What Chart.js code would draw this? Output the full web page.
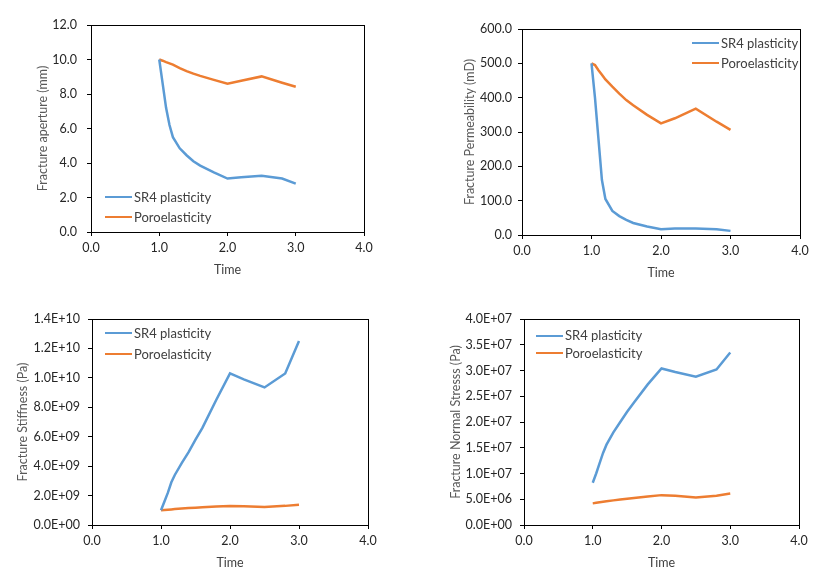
<!DOCTYPE html>
<html>
<head>
<meta charset="utf-8">
<script src="https://cdn.jsdelivr.net/npm/chart.js@4.4.1/dist/chart.umd.min.js"></script>
<style>
  body { margin: 0; background: #fff; width: 831px; height: 580px; position: relative; overflow: hidden; font-family: Lato, sans-serif; }
  canvas { position: absolute; }
  .legend { position: absolute; font-size: 13px; color: #404040; }
  .legend div { position: relative; padding-left: 29px; white-space: nowrap; }
  .legend span { position: absolute; left: 0; width: 27px; height: 0; border-top: 2.5px solid; }
</style>
</head>
<body>
<canvas id="aperture" width="415" height="290" style="left:0;top:0"></canvas>
<canvas id="permeability" width="415" height="290" style="left:415px;top:0"></canvas>
<canvas id="stiffness" width="415" height="290" style="left:0;top:290px"></canvas>
<canvas id="stress" width="415" height="290" style="left:415px;top:290px"></canvas>
<script>
const BLUE = "#5B9BD5";
const ORANGE = "#ED7D31";
const SERIES_NAMES = ["SR4 plasticity", "Poroelasticity"];

const TIME = [1.0, 1.05, 1.1, 1.15, 1.2, 1.3, 1.4, 1.5, 1.6, 1.8, 2.0, 2.2, 2.5, 2.8, 3.0];

const APERTURE_SR4 = [10.0, 8.6, 7.2, 6.2, 5.5, 4.85, 4.45, 4.1, 3.85, 3.45, 3.1, 3.18, 3.26, 3.1, 2.8];
const APERTURE_PORO = [10.0, 9.93, 9.85, 9.78, 9.7, 9.5, 9.33, 9.18, 9.05, 8.82, 8.6, 8.77, 9.02, 8.65, 8.42];

const PERM_SR4 = [500, 400, 280, 160, 105, 70, 55, 44, 35, 25, 17, 19, 19, 17, 12];
const PERM_PORO = [500, 495, 480, 467, 453, 432, 412, 393, 378, 350, 325, 340, 368, 330, 306];

const STIFF_SR4 = [1.0e9, 1.6e9, 2.2e9, 2.9e9, 3.4e9, 4.2e9, 4.95e9, 5.8e9, 6.6e9, 8.5e9, 10.3e9, 9.9e9, 9.35e9, 10.3e9, 12.5e9];
const STIFF_PORO = [1.0e9, 1.02e9, 1.04e9, 1.06e9, 1.08e9, 1.12e9, 1.15e9, 1.18e9, 1.2e9, 1.26e9, 1.29e9, 1.28e9, 1.22e9, 1.3e9, 1.38e9];

const STRESS_SR4 = [8.2e6, 10.0e6, 12.0e6, 14.0e6, 15.6e6, 18.0e6, 20.0e6, 22.0e6, 23.8e6, 27.3e6, 30.4e6, 29.7e6, 28.8e6, 30.2e6, 33.5e6];
const STRESS_PORO = [4.2e6, 4.3e6, 4.4e6, 4.5e6, 4.6e6, 4.78e6, 4.95e6, 5.1e6, 5.25e6, 5.55e6, 5.8e6, 5.7e6, 5.35e6, 5.7e6, 6.1e6];

const X_TICKS = ["0.0", "1.0", "2.0", "3.0", "4.0"];
const APERTURE_TICKS = ["0.0", "2.0", "4.0", "6.0", "8.0", "10.0", "12.0"];
const PERM_TICKS = ["0.0", "100.0", "200.0", "300.0", "400.0", "500.0", "600.0"];
const STIFF_TICKS = ["0.0E+00", "2.0E+09", "4.0E+09", "6.0E+09", "8.0E+09", "1.0E+10", "1.2E+10", "1.4E+10"];
const STRESS_TICKS = ["0.0E+00", "5.0E+06", "1.0E+07", "1.5E+07", "2.0E+07", "2.5E+07", "3.0E+07", "3.5E+07", "4.0E+07"];

const frame = {
  id: "frame",
  afterDraw(chart) {
    const { ctx, chartArea: a } = chart;
    ctx.save();
    ctx.strokeStyle = "#000";
    ctx.lineWidth = 1;
    ctx.strokeRect(Math.round(a.left) + 0.5, Math.round(a.top) + 0.5,
      Math.round(a.right - a.left), Math.round(a.bottom - a.top));
    ctx.restore();
  },
};

function toPoints(values) {
  return TIME.map((t, i) => ({ x: t, y: values[i] }));
}

function makeChart(id, cfg) {
  const tickFont = { family: "Lato", size: 12.5 };
  const titleFont = { family: "Lato", size: 12.5 };
  return new Chart(document.getElementById(id), {
    type: "line",
    data: {
      datasets: [
        { label: SERIES_NAMES[0], data: toPoints(cfg.sr4), borderColor: BLUE, borderWidth: 2.5, pointRadius: 0, tension: 0 },
        { label: SERIES_NAMES[1], data: toPoints(cfg.poro), borderColor: ORANGE, borderWidth: 2.5, pointRadius: 0, tension: 0 },
      ],
    },
    options: {
      responsive: false,
      animation: false,
      events: [],
      layout: { padding: { left: 0, top: cfg.top, right: cfg.right, bottom: 0 } },
      plugins: { legend: { display: false }, tooltip: { enabled: false } },
      scales: {
        x: {
          type: "linear",
          min: 0,
          max: 4,
          ticks: { stepSize: 1, autoSkip: false, maxRotation: 0, padding: 4, color: "#262626", font: tickFont, callback: (v, i) => X_TICKS[i] },
          grid: { drawOnChartArea: false, drawTicks: true, tickLength: 4, color: "#000" },
          border: { display: true, color: "#000" },
          title: { display: true, text: "Time", color: "#404040", font: titleFont, padding: { top: 0, bottom: cfg.xTitlePad } },
          afterFit: (s) => { s.height = cfg.xh; s.paddingLeft = 0; s.paddingRight = 0; },
        },
        y: {
          min: 0,
          max: cfg.max,
          ticks: { stepSize: cfg.step, autoSkip: false, padding: cfg.tickPad, color: "#262626", font: tickFont, callback: (v, i) => cfg.ticks[i] },
          grid: { drawOnChartArea: false, drawTicks: true, tickLength: 4, color: "#000" },
          border: { display: true, color: "#000" },
          title: { display: true, text: cfg.title, color: "#595959", font: titleFont, padding: { top: cfg.yTitlePad, bottom: 0 } },
          afterFit: (s) => { s.width = cfg.yw; s.paddingTop = 0; s.paddingBottom = 0; },
        },
      },
    },
    plugins: [frame],
  });
}

function makeLegend(left, top, gap) {
  const box = document.createElement("div");
  box.className = "legend";
  box.style.left = left + "px";
  box.style.top = top + "px";
  [BLUE, ORANGE].forEach((color, i) => {
    const row = document.createElement("div");
    row.style.height = gap + "px";
    row.style.lineHeight = gap + "px";
    const line = document.createElement("span");
    line.style.borderColor = color;
    line.style.top = (gap / 2 - 1.25) + "px";
    row.appendChild(line);
    row.appendChild(document.createTextNode(SERIES_NAMES[i]));
    box.appendChild(row);
  });
  document.body.appendChild(box);
}

makeChart("aperture", {
  sr4: APERTURE_SR4, poro: APERTURE_PORO, max: 12, step: 2, ticks: APERTURE_TICKS,
  title: "Fracture aperture (mm)", top: 25, right: 51, yw: 91, xh: 58, tickPad: 10, yTitlePad: 35.5, xTitlePad: 12.5,
});
makeChart("permeability", {
  sr4: PERM_SR4, poro: PERM_PORO, max: 600, step: 100, ticks: PERM_TICKS,
  title: "Fracture Permeability (mD)", top: 29, right: 30, yw: 107, xh: 55, tickPad: 6, yTitlePad: 47.5, xTitlePad: 9.5,
});
makeChart("stiffness", {
  sr4: STIFF_SR4, poro: STIFF_PORO, max: 1.4e10, step: 2e9, ticks: STIFF_TICKS,
  title: "Fracture Stiffness (Pa)", top: 29, right: 47, yw: 92, xh: 55, tickPad: 8, yTitlePad: 15.5, xTitlePad: 9.5,
});
makeChart("stress", {
  sr4: STRESS_SR4, poro: STRESS_PORO, max: 4e7, step: 5e6, ticks: STRESS_TICKS,
  title: "Fracture Normal Stresss (Pa)", top: 29, right: 31, yw: 109, xh: 55, tickPad: 8, yTitlePad: 33, xTitlePad: 9.5,
});

makeLegend(105, 187, 20);
makeLegend(692, 33, 20);
makeLegend(105, 323, 20.5);
makeLegend(536, 327, 17.7);
</script>
</body>
</html>
